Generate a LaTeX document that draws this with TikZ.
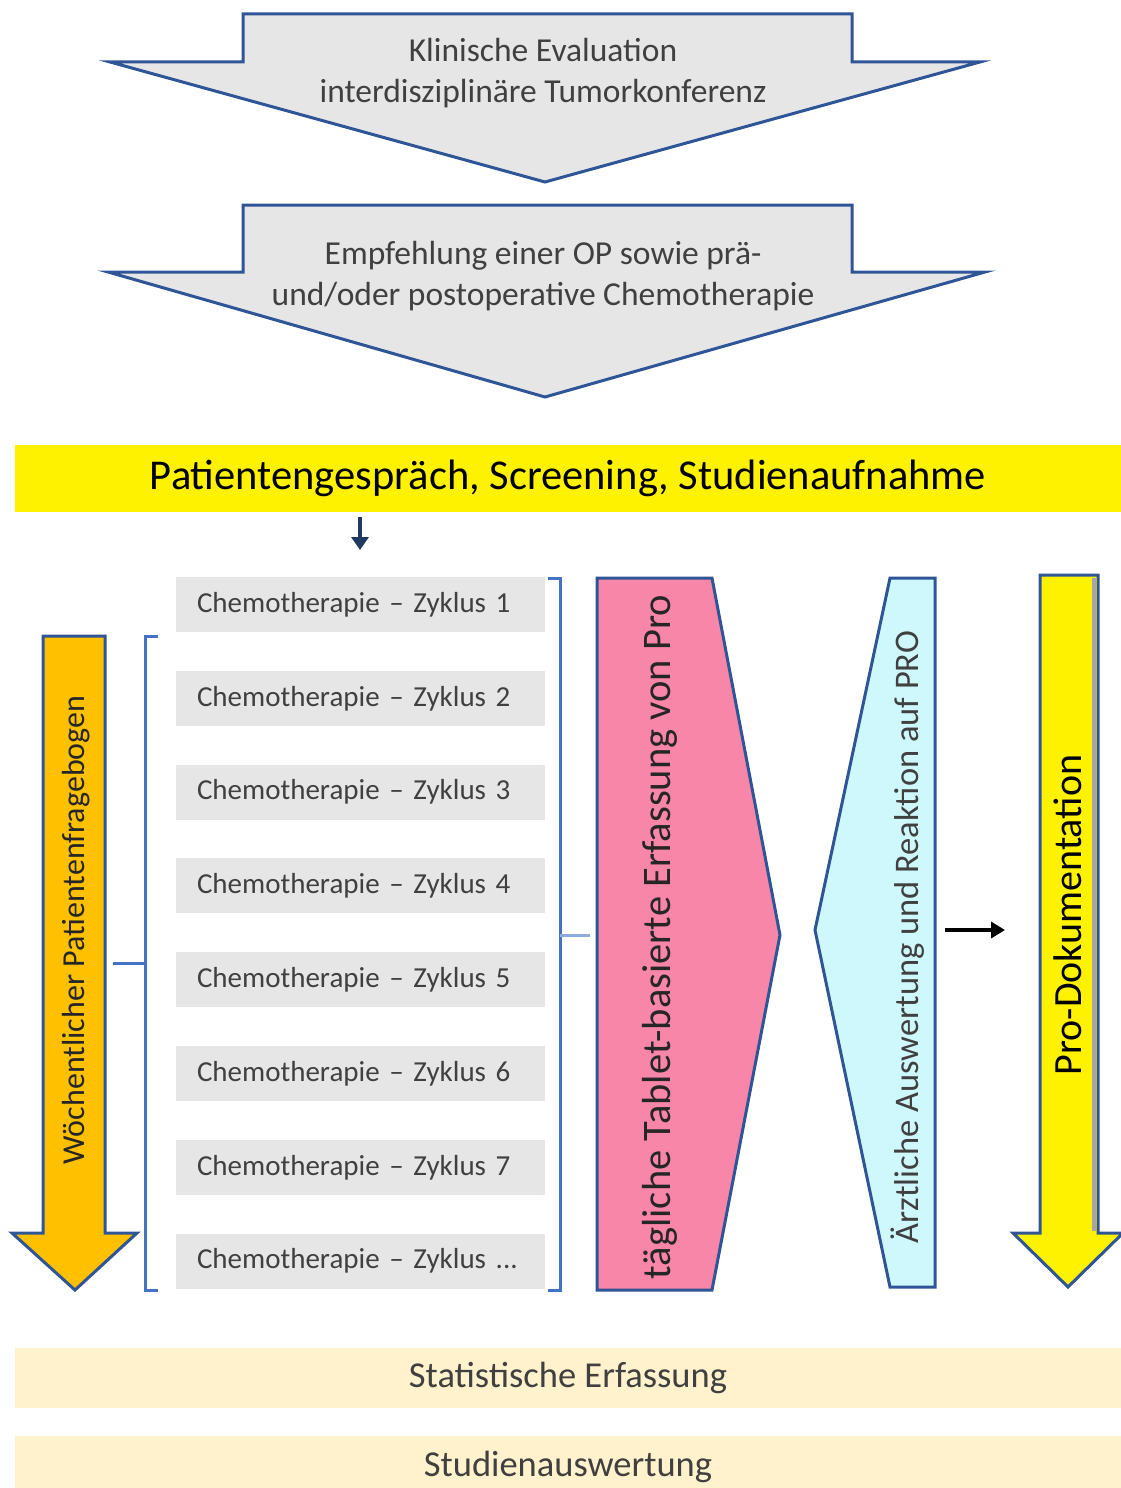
\documentclass[tikz,border=0pt]{standalone}
\usepackage{fontspec}
\setmainfont{Carlito}
\usetikzlibrary{arrows.meta, positioning, calc}
\definecolor{outline}{RGB}{47, 85, 151}
\definecolor{bracket}{RGB}{68, 114, 196}
\definecolor{greybox}{RGB}{231, 230, 230}
\definecolor{textgrey}{RGB}{64, 64, 64}
\definecolor{amber}{RGB}{255, 192, 0}
\definecolor{rose}{RGB}{248, 134, 168}
\definecolor{iceblue}{RGB}{206, 248, 252}
\definecolor{cream}{RGB}{255, 242, 204}
\definecolor{navy}{RGB}{31, 56, 100}

\begin{document}
\begin{tikzpicture}[
    x=1pt, y=-1pt,
    node distance=38.4pt and 20pt,
    bigarrow/.style={draw=outline, fill=greybox, line width=3pt, line join=miter},
    steptext/.style={align=center, text=textgrey, font=\fontsize{33.5}{41}\selectfont},
    zyklus/.style={rectangle, fill=greybox, text width=327pt, inner xsep=21pt, inner ysep=0pt, minimum height=55pt, align=left, text=textgrey, font=\fontsize{29}{33}\selectfont},
    band/.style={rectangle, minimum width=1106pt, inner sep=0pt, align=center},
    brace/.style={draw=bracket, line width=3pt},
    phase/.style={draw=outline, line width=3pt, line join=miter},
    sidetext/.style={rotate=90, align=center},
    arrow/.style={-{Triangle[length=14pt, width=16pt]}, line width=3.5pt}
]
    \useasboundingbox (0,0) rectangle (1121,1488);

    % Upstream steps
    \draw[bigarrow] (243,14) -- (852,14) -- (852,62) -- (980,62) -- (545,182) -- (110,62) -- (243,62) -- cycle;
    \node[steptext] (evaluation) at (543,73) {Klinische Evaluation\\interdisziplinäre Tumorkonferenz};
    \draw[bigarrow] (243,205) -- (852,205) -- (852,272) -- (985,272) -- (545,397) -- (108,272) -- (243,272) -- cycle;
    \node[steptext] (empfehlung) at (543,276) {Empfehlung einer OP sowie prä-\\und/oder postoperative Chemotherapie};

    % Study entry
    \node[band, fill=yellow, minimum height=67pt, font=\fontsize{42.5}{48}\selectfont] (aufnahme) at (568,478.5) {Patientengespräch, Screening, Studienaufnahme};
    \coordinate (entry) at (360,550);
    \draw[arrow, navy, line width=4pt, -{Triangle[length=13pt, width=17pt]}] ([yshift=-5pt]aufnahme.south -| entry) -- (entry);

    % Chemotherapy cycles
    \node[zyklus] (zyklus1) at (360.5,604.5) {Chemotherapie – Zyklus 1};
    \node[zyklus, below=of zyklus1] (zyklus2) {Chemotherapie – Zyklus 2};
    \node[zyklus, below=of zyklus2] (zyklus3) {Chemotherapie – Zyklus 3};
    \node[zyklus, below=of zyklus3] (zyklus4) {Chemotherapie – Zyklus 4};
    \node[zyklus, below=of zyklus4] (zyklus5) {Chemotherapie – Zyklus 5};
    \node[zyklus, below=of zyklus5] (zyklus6) {Chemotherapie – Zyklus 6};
    \node[zyklus, below=of zyklus6] (zyklus7) {Chemotherapie – Zyklus 7};
    \node[zyklus, below=of zyklus7] (zyklus8) {Chemotherapie – Zyklus ...};

    % Brackets
    \draw[brace] (158,636) -- (145,636) -- (145,1290) -- (158,1290);
    \draw[brace] (145,963) -- (113,963);
    \draw[brace] (548,578) -- (560,578) -- (560,1290) -- (548,1290);
    \draw[brace, bracket!60] (560,935) -- (590,935);

    % Weekly questionnaire
    \draw[phase, fill=amber] (43,636) -- (105,636) -- (105,1233) -- (137,1233) -- (75,1290) -- (12,1233) -- (43,1233) -- cycle;
    \node[sidetext, font=\fontsize{32}{38}\selectfont, text=black!85] (fragebogen) at (76,930) {Wöchentlicher Patientenfragebogen};

    % PRO capture and response
    \draw[phase, fill=rose] (597,578) -- (712,578) -- (780,935) -- (712,1290) -- (597,1290) -- cycle;
    \node[sidetext, font=\fontsize{40.5}{46}\selectfont, text=black!85] (erfassung) at (660,937) {tägliche Tablet-basierte Erfassung von Pro};
    \draw[phase, fill=iceblue] (890,578) -- (935,578) -- (935,1287) -- (890,1287) -- (815,930) -- cycle;
    \node[sidetext, font=\fontsize{34.5}{40}\selectfont, text=textgrey] (reaktion) at (908,937) {Ärztliche Auswertung und Reaktion auf PRO};
    \coordinate (cyanedge) at (935,930);

    % Documentation
    \draw[phase, fill=yellow] (1040,575) -- (1098,575) -- (1098,1233) -- (1123,1233) -- (1068,1287) -- (1013,1233) -- (1040,1233) -- cycle;
    \draw[line width=4pt, black!35] (1094,578) -- (1094,1231);
    \node[sidetext, font=\fontsize{40}{46}\selectfont] (dokumentation) at (1068,915) {Pro-Dokumentation};
    \coordinate (doc) at (1005,930);
    \draw[arrow] ([xshift=10pt]cyanedge) -- (doc);

    % Analysis
    \node[band, fill=cream, minimum height=60pt, text=textgrey, font=\fontsize{36.5}{42}\selectfont] (statistik) at (568,1378) {Statistische Erfassung};
    \node[band, fill=cream, minimum height=62pt, text=textgrey, font=\fontsize{36.5}{42}\selectfont, below=28pt of statistik] (auswertung) {Studienauswertung};
\end{tikzpicture}
\end{document}
